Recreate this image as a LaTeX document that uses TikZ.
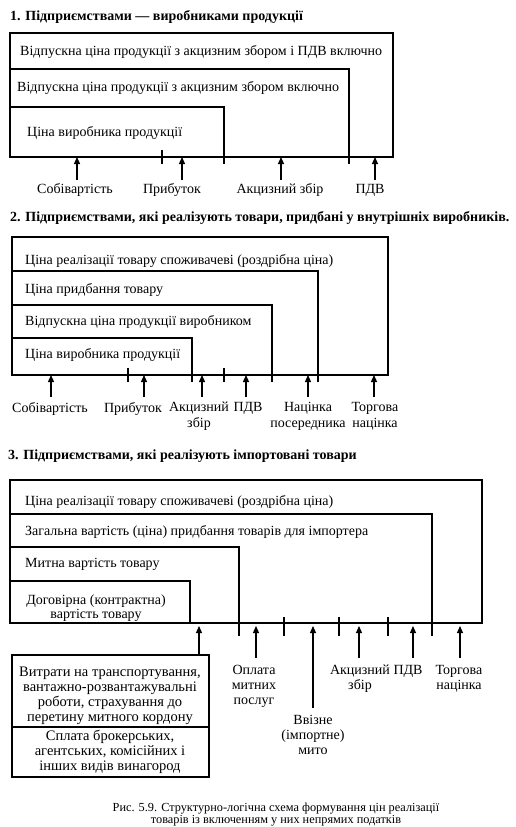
\documentclass[tikz,border=0pt]{standalone}
\usepackage{fontspec}
\setmainfont{Liberation Serif}
\usetikzlibrary{arrows.meta}
\begin{document}
\begin{tikzpicture}[x=1pt,y=-1pt,
  frame/.style={line width=1.1pt},
  tickmark/.style={line width=2.6pt},
  arr/.style={line width=1.2pt,-{Triangle[length=7pt,width=6pt]}},
  ttl/.style={anchor=west,inner sep=0,font=\fontsize{14}{15}\selectfont\bfseries},
  txt/.style={anchor=west,inner sep=0,font=\fontsize{14}{15}\selectfont},
  lbl/.style={anchor=north,inner sep=0,align=center,font=\fontsize{14}{15}\selectfont},
  lbltwo/.style={anchor=north,inner sep=0,align=center,font=\fontsize{14}{16}\selectfont},
  boxtxt/.style={anchor=north,inner sep=0,align=center,font=\fontsize{14.5}{15}\selectfont},
  captxt/.style={anchor=north,inner sep=0,align=center,font=\fontsize{12.3}{12}\selectfont}]
\fill[white] (0,0) rectangle (515,827);
\useasboundingbox (0,0) rectangle (515,827);

% ---------- Section 1 ----------
\node[ttl] (t1) at (10,17) {1. Підприємствами — виробниками продукції};
\draw[frame] (10,33) rectangle (393,157);
\draw[frame] (10,69) -- (349,69) -- (349,157);
\draw[frame] (10,107) -- (224,107) -- (224,157);
\draw[tickmark] (162,150) -- (162,164);
\draw[tickmark] (224,150) -- (224,164);
\draw[tickmark] (349,150) -- (349,164);
\node[txt] (a1) at (20,52) {Відпускна ціна продукції з акцизним збором і ПДВ включно};
\node[txt] (a2) at (17,88) {Відпускна ціна продукції з акцизним збором включно};
\node[txt] (a3) at (27,133) {Ціна виробника продукції};
\node[lbl,anchor=center] (l11) at (75,190) {Собівартість};
\node[lbl,anchor=center] (l12) at (172,190) {Прибуток};
\node[lbl,anchor=center] (l13) at (280,190) {Акцизний збір};
\node[lbl,anchor=center] (l14) at (370,190) {ПДВ};
\coordinate (h11) at (77,157);  \coordinate (s11) at (77,180);
\coordinate (h12) at (182,157); \coordinate (s12) at (182,180);
\coordinate (h13) at (281,157); \coordinate (s13) at (281,180);
\coordinate (h14) at (375,157); \coordinate (s14) at (375,180);
\foreach \i in {11,12,13,14} \draw[arr] (s\i) -- (h\i);

% ---------- Section 2 ----------
\node[ttl] (t2) at (10,218) {2. Підприємствами, які реалізують товари, придбані у внутрішніх виробників.};
\draw[frame] (12,237) rectangle (388,375);
\draw[frame] (12,271) -- (318,271) -- (318,375);
\draw[frame] (12,305) -- (272,305) -- (272,375);
\draw[frame] (12,338) -- (192,338) -- (192,375);
\foreach \x in {128,192,224,272,318} \draw[tickmark] (\x,368) -- (\x,382);
\node[txt] (b1) at (25,261) {Ціна реалізації товару споживачеві (роздрібна ціна)};
\node[txt] (b2) at (25,290) {Ціна придбання товару};
\node[txt] (b3) at (25,322) {Відпускна ціна продукції виробником};
\node[txt] (b4) at (25,355) {Ціна виробника продукції};
\node[lbltwo] (l21) at (50,402) {Собівартість};
\node[lbltwo] (l22) at (133,402) {Прибуток};
\node[lbltwo] (l23) at (199,402) {Акцизний\\збір};
\node[lbltwo] (l24) at (248,402) {ПДВ};
\node[lbltwo] (l25) at (308,402) {Націнка\\посередника};
\node[lbltwo] (l26) at (375,402) {Торгова\\націнка};
\coordinate (h21) at (51,375);
\coordinate (h22) at (144,375);
\coordinate (h23) at (202,375);
\coordinate (h24) at (246,375);
\coordinate (h25) at (308,375);
\coordinate (h26) at (374,375);
\foreach \i in {21,...,26} \draw[arr] ([yshift=5pt]l\i.north -| h\i) -- (h\i);

% ---------- Section 3 ----------
\node[ttl] (t3) at (8,456) {3. Підприємствами, які реалізують імпортовані товари};
\draw[frame] (10,480) rectangle (482,623);
\draw[frame] (10,514) -- (432,514) -- (432,623);
\draw[frame] (10,547) -- (239,547) -- (239,623);
\draw[frame] (10,581) -- (190,581) -- (190,623);
\foreach \x in {239,284,339,388,432} \draw[tickmark] (\x,617) -- (\x,636);
\node[txt] (c1) at (25,502) {Ціна реалізації товару споживачеві (роздрібна ціна)};
\node[txt] (c2) at (25,532) {Загальна вартість (ціна) придбання товарів для імпортера};
\node[txt] (c3) at (25,564) {Митна вартість товару};
\node[boxtxt,font=\fontsize{14}{14}\selectfont] (c4) at (96,595) {Договірна (контрактна)\\вартість товару};

\draw[frame] (12,655) rectangle (209,777);
\draw[frame] (12,727) -- (209,727);
\node[boxtxt] (d1) at (110,667) {Витрати на транспортування,\\вантажно-розвантажувальні\\роботи, страхування до\\перетину митного кордону};
\node[boxtxt] (d2) at (110,730) {Сплата брокерських,\\агентських, комісійних і\\інших видів винагород};
\coordinate (bx) at (199,655);

\node[lbl] (l31) at (254,665) {Оплата\\митних\\послуг};
\node[lbl] (l32) at (313,715) {Ввізне\\(імпортне)\\мито};
\node[lbl] (l33) at (360,665) {Акцизний\\збір};
\node[lbl] (l34) at (408,665) {ПДВ};
\node[lbl] (l35) at (459,665) {Торгова\\націнка};
\coordinate (h30) at (199,626);
\coordinate (h31) at (256,626);
\coordinate (h32) at (313,626);
\coordinate (h33) at (359,626);
\coordinate (h34) at (413,626);
\coordinate (h35) at (460,626);
\draw[arr] (bx) -- (h30);
\foreach \i in {31,...,35} \draw[arr] ([yshift=7pt]l\i.north -| h\i) -- (h\i);

% ---------- Caption ----------
\node[captxt] (cp) at (276,803) {Рис. 5.9. Структурно-логічна схема формування цін реалізації\\товарів із включенням у них непрямих податків};
\end{tikzpicture}
\end{document}
